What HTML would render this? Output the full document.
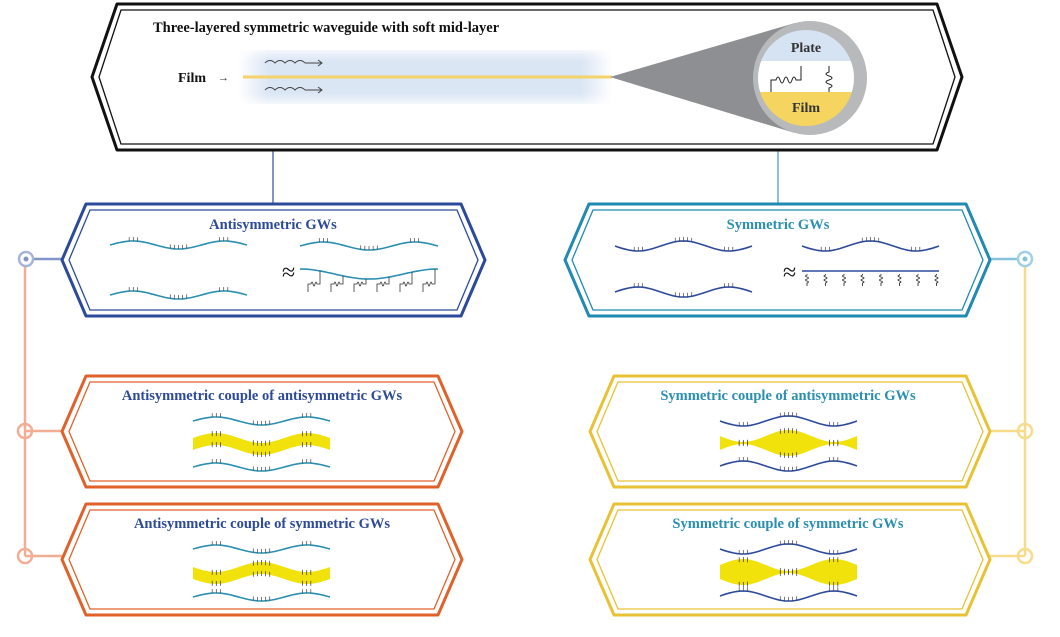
<!DOCTYPE html>
<html><head><meta charset="utf-8"><style>
body{margin:0;background:#fff;width:1060px;height:637px;overflow:hidden}
svg{display:block}
text{font-family:"Liberation Serif",serif;font-weight:bold}
</style></head><body>
<svg id="s" width="1060" height="637" viewBox="0 0 1060 637" xmlns="http://www.w3.org/2000/svg">
<defs>
<linearGradient id="bg" x1="0" x2="1" y1="0" y2="0">
<stop offset="0" stop-color="#dbe6f5" stop-opacity="0"/><stop offset="0.08" stop-color="#dbe6f5"/><stop offset="0.92" stop-color="#dbe6f5"/><stop offset="1" stop-color="#dbe6f5" stop-opacity="0"/>
</linearGradient>
<linearGradient id="bgv" x1="0" x2="0" y1="0" y2="1">
<stop offset="0" stop-color="#fff" stop-opacity="0.7"/><stop offset="0.2" stop-color="#fff" stop-opacity="0"/><stop offset="0.8" stop-color="#fff" stop-opacity="0"/><stop offset="1" stop-color="#fff" stop-opacity="0.7"/>
</linearGradient>
<clipPath id="cc"><circle cx="806" cy="78" r="48"/></clipPath>
</defs>
<line x1="273" y1="150" x2="273" y2="205" stroke="#8196c6" stroke-width="2"/>
<line x1="778" y1="150" x2="778" y2="205" stroke="#86c3da" stroke-width="2"/>
<line x1="25" y1="266" x2="25" y2="556" stroke="#f2ad93" stroke-width="2.5"/>
<line x1="1025" y1="266" x2="1025" y2="556" stroke="#f6dc8a" stroke-width="2.5"/>
<line x1="34" y1="259" x2="64" y2="259" stroke="#8196c6" stroke-width="2.5"/>
<circle cx="26" cy="259" r="7" fill="#fff" stroke="#a6b4da" stroke-width="2.5"/><circle cx="26" cy="259" r="2.5" fill="#8196c6"/>
<line x1="988" y1="259" x2="1018" y2="259" stroke="#86c3da" stroke-width="2.5"/>
<circle cx="1025" cy="259" r="7" fill="#fff" stroke="#9fd0e3" stroke-width="2.5"/><circle cx="1025" cy="259" r="2.5" fill="#86c3da"/>
<g stroke="#f2ad93" stroke-width="2.5" fill="none">
<line x1="25" y1="431" x2="64" y2="431"/><line x1="25" y1="556" x2="64" y2="556"/>
<circle cx="25" cy="431" r="7"/><circle cx="25" cy="556" r="7"/></g>
<g stroke="#f6dc8a" stroke-width="2.5" fill="none">
<line x1="988" y1="431" x2="1025" y2="431"/><line x1="988" y1="556" x2="1025" y2="556"/>
<circle cx="1025" cy="431" r="7"/><circle cx="1025" cy="556" r="7"/></g>
<g id="boxes"></g>
<text x="153" y="32" font-size="14.5" fill="#111">Three-layered symmetric waveguide with soft mid-layer</text>
<rect x="238" y="50" width="374" height="54" fill="url(#bg)"/>
<rect x="238" y="50" width="374" height="54" fill="url(#bgv)"/>
<line x1="243" y1="77" x2="612" y2="77" stroke="#f3d36a" stroke-width="3"/>
<text x="178" y="82" font-size="14" fill="#111">Film</text>
<text x="218" y="81" font-size="11" fill="#333" style="font-weight:normal">→</text>
<g id="wv" fill="none" stroke="#444" stroke-width="1"></g>
<path d="M610 77 L795 23 L795 133 Z" fill="#8e8f92"/>
<circle cx="810" cy="78" r="57" fill="#b8b9bb"/>
<g clip-path="url(#cc)">
<rect x="750" y="20" width="120" height="41" fill="#d6e3f3"/>
<rect x="750" y="61" width="120" height="31" fill="#fff"/>
<rect x="750" y="92" width="120" height="40" fill="#f5d560"/>
</g>
<text x="806" y="52" font-size="14" fill="#333" text-anchor="middle">Plate</text>
<text x="806" y="112" font-size="14" fill="#333" text-anchor="middle">Film</text>
<g fill="none" stroke="#222" stroke-width="1">
<path d="M771 92 V80 H776 q2 -6 4 0 q2 6 4 0 q2 -6 4 0 q2 6 4 0 q2 -6 4 0 H801 V66"/>
<path d="M829 66 V72 q-6 2 0 4 q6 2 0 4 q-6 2 0 4 q6 2 0 4 V92"/>
</g>
<text x="282" y="280" font-size="24" fill="#111" style="font-weight:normal">≈</text>
<text x="783" y="280" font-size="24" fill="#111" style="font-weight:normal">≈</text>
<text x="273" y="229" font-size="14.5" fill="#2d4a9a" text-anchor="middle">Antisymmetric GWs</text>
<text x="778" y="229" font-size="14.5" fill="#2a8fb0" text-anchor="middle">Symmetric GWs</text>
<text x="262" y="400" font-size="14.5" fill="#2d4a9a" text-anchor="middle">Antisymmetric couple of antisymmetric GWs</text>
<text x="262" y="528" font-size="14.5" fill="#2d4a9a" text-anchor="middle">Antisymmetric couple of symmetric GWs</text>
<text x="788" y="400" font-size="14.5" fill="#2a8fb0" text-anchor="middle">Symmetric couple of antisymmetric GWs</text>
<text x="788" y="528" font-size="14.5" fill="#2a8fb0" text-anchor="middle">Symmetric couple of symmetric GWs</text>
<g id="waves"></g>
</svg>
<script>
var NS="http://www.w3.org/2000/svg";
function el(p,t,a){var e=document.createElementNS(NS,t);for(var k in a)e.setAttribute(k,a[k]);p.appendChild(e);return e;}
function hexPath(x1,y1,x2,y2,d){var m=(y1+y2)/2;return "M"+x1+" "+m+" L"+(x1+d)+" "+y1+" L"+(x2-d)+" "+y1+" L"+x2+" "+m+" L"+(x2-d)+" "+y2+" L"+(x1+d)+" "+y2+" Z";}
var B=document.getElementById("boxes");
function box(x1,y1,x2,y2,c,d,w){
 el(B,"path",{d:hexPath(x1,y1,x2,y2,d),fill:"#fff",stroke:c,"stroke-width":w||3,"stroke-linejoin":"round"});
 el(B,"path",{d:hexPath(x1+7,y1+6,x2-7,y2-6,d-3),fill:"none",stroke:c,"stroke-width":1.3,"stroke-linejoin":"round"});
}
box(92,4,962,150,"#111",25,3);
box(62,204,485,316,"#2b4a9c",24);
box(565,204,990,316,"#2089b4",24);
box(62,376,462,487,"#e0622a",24);
box(62,504,462,615,"#e0622a",24);
box(590,376,990,487,"#e8c234",24);
box(590,504,990,615,"#e8c234",24);
var W=document.getElementById("waves");
function f(t){return Math.cos(3*Math.PI*(t-0.5));}
var TK=[0.14,0.17,0.2,0.44,0.47,0.5,0.53,0.56,0.8,0.83,0.86];
function wave(x0,y0,w,a,s,col){
 var d="";for(var i=0;i<=40;i++){var t=i/40;d+=(i?"L":"M")+(x0+t*w).toFixed(1)+" "+(y0+s*a*f(t)).toFixed(1);}
 el(W,"path",{d:d,fill:"none",stroke:col,"stroke-width":1.6});
 TK.forEach(function(t){var x=x0+t*w,y=y0+s*a*f(t);
  el(W,"line",{x1:x,y1:y,x2:x,y2:y-4,stroke:"#444","stroke-width":0.7});});
}
function band(x0,y0,w,fn){
 var top="",bot="";for(var i=0;i<=40;i++){var t=i/40,x=(x0+t*w).toFixed(1),r=fn(t);top+=(i?"L":"M")+x+" "+(y0+r[0]).toFixed(1);bot="L"+x+" "+(y0+r[1]).toFixed(1)+bot;}
 el(W,"path",{d:top+bot+"Z",fill:"#f0e20a"});
 TK.forEach(function(t){var x=x0+t*w,r=fn(t);
  el(W,"line",{x1:x,y1:y0+r[0]-2,x2:x,y2:y0+r[0]+3,stroke:"#333","stroke-width":0.7});
  el(W,"line",{x1:x,y1:y0+r[1]+2,x2:x,y2:y0+r[1]-3,stroke:"#333","stroke-width":0.7});});
}
var cA="#2a8fb0",cS="#2d4a9a";
wave(110,245,137,4,1,cA);wave(110,295,137,4,1,cA);
wave(300,246,138,4,1,cA);
(function(){var d="";for(var i=0;i<=40;i++){var t=i/40;d+=(i?"L":"M")+(300+t*138).toFixed(1)+" "+(274-5*Math.cos(2*Math.PI*(t))).toFixed(1);}
el(W,"path",{d:d,fill:"none",stroke:cA,"stroke-width":1.6});
for(var k=0;k<6;k++){var x=306+k*23;el(W,"path",{d:"M"+(x+14)+" "+(274-5*Math.cos(2*Math.PI*((x+14-300)/138)))+" V284 h-3 q-1 -4 -2 0 q-1 4 -2 0 q-1 -4 -2 0 h-3 V292",fill:"none",stroke:"#333","stroke-width":0.8});}})();
wave(615,246,137,5,-1,cS);wave(615,292,137,5,1,cS);
wave(802,246,137,5,-1,cS);
el(W,"line",{x1:802,y1:271,x2:939,y2:271,stroke:cS,"stroke-width":1.6});
for(var k=0;k<8;k++){var x=807+k*18.5;el(W,"path",{d:"M"+x+" 274 v1 q-3 1 0 2 q3 1 0 2 q-3 1 0 2 q3 1 0 2 v3",fill:"none",stroke:"#333","stroke-width":0.9});}
wave(193,421,137,4,1,cA);band(193,444,137,function(t){var y=5*f(t);return[y-6,y+6];});wave(193,467,137,4,1,cA);
wave(193,549,137,4,1,cA);band(193,573,137,function(t){var y=-5*f(t);return[y-6,y+6];});wave(193,597,137,4,1,cA);
wave(720,421,137,5,-1,cS);band(720,443,137,function(t){var h=7+6*f(t);return[-h,h];});wave(720,466,137,5,1,cS);
wave(720,549,137,5,-1,cS);band(720,572,137,function(t){var h=7-6*f(t);return[-h,h];});wave(720,596,137,5,1,cS);
var WV=document.getElementById("wv");
[63,90].forEach(function(y){var d="M265 "+y;for(var i=0;i<4;i++)d+=" q5 -5 10 0";WV.innerHTML+='<path d="'+d+'"/><path d="M305 '+y+' H322 M318 '+(y-3)+' L322 '+y+' L318 '+(y+3)+'"/>';});
</script>
</body></html>
